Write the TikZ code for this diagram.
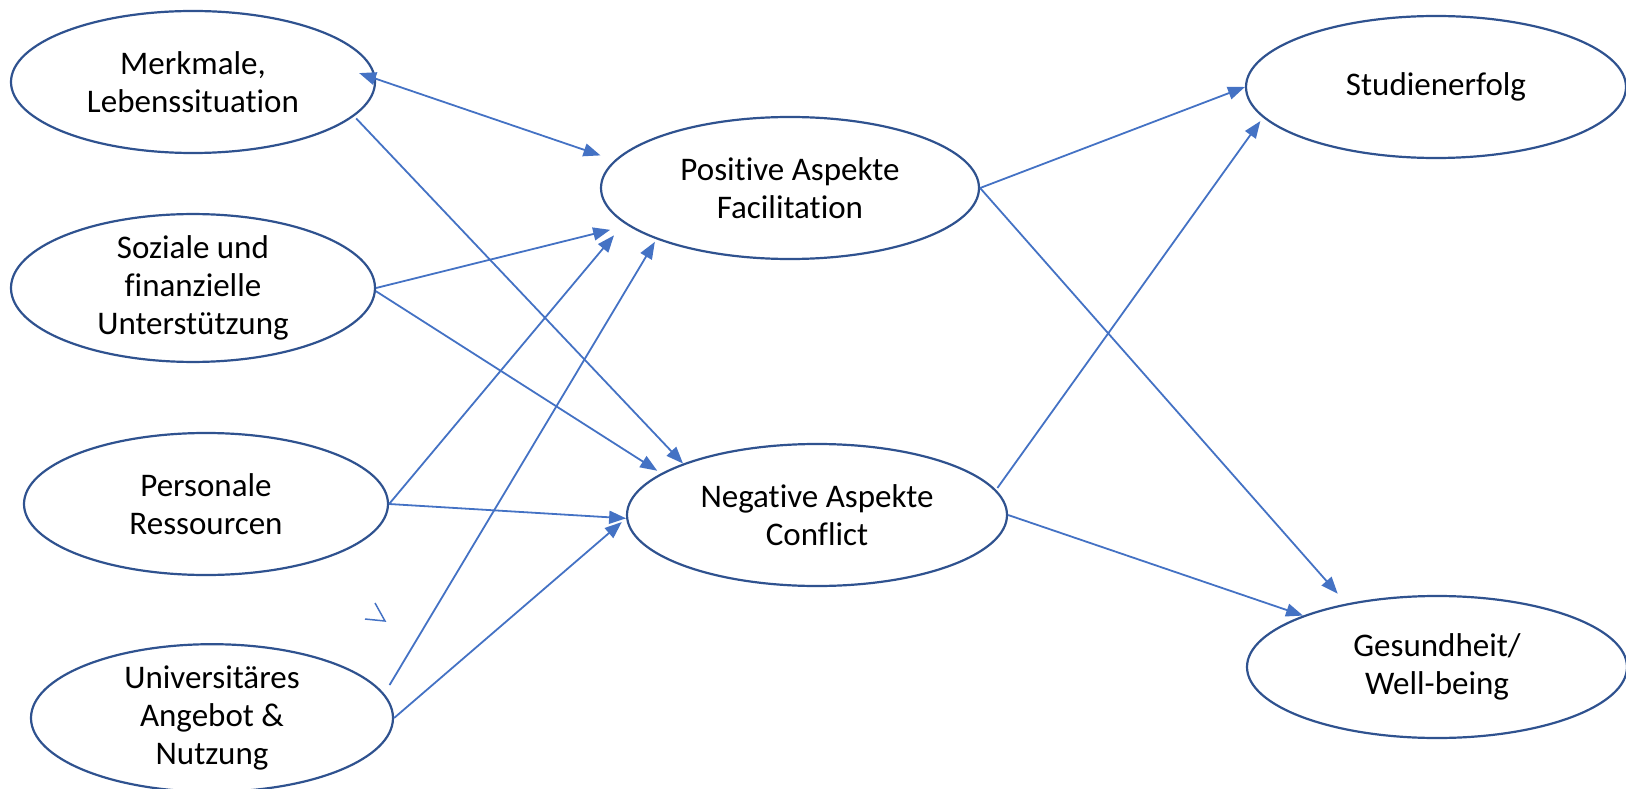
\documentclass[tikz,border=0pt]{standalone}
\usepackage{fontspec}
\setmainfont{Carlito}[Ligatures=NoCommon]
\usetikzlibrary{%
		shapes.geometric%
		,arrows.meta%
	}
\definecolor{pfeilblau}{RGB}{68,114,196}
\definecolor{randblau}{RGB}{47,82,143}

\begin{document}
\begin{tikzpicture}[x=1pt, y=-1pt,
			spitze/.tip={Triangle[length=17pt, width=13pt]},
			konstrukt/.style={ellipse, draw=randblau, line width=2.2pt, minimum width=364pt, minimum height=142pt, inner sep=0pt, align=center, font=\fontsize{33}{38}\selectfont},
			ziel/.style={konstrukt, minimum width=380pt},
			pfeil/.style={draw=pfeilblau, line width=1.8pt, -spitze}]
			\useasboundingbox (0,0) rectangle (1626,789);
			
			% Ressourcen
			\node[konstrukt] (merkmale) at (193,82) {Merkmale,\\Lebenssituation};
			\node[konstrukt] (sozial) at (193,288) {Soziale und\\finanzielle\\Unterstützung};
			\node[konstrukt] (personal) at (206,504) {Personale\\Ressourcen};
			\node[konstrukt, minimum width=362pt, minimum height=140pt] (uni) at (212,718) {Universitäres\\Angebot \&\\Nutzung};
			
			% Facilitation und Conflict
			\node[ziel, minimum width=378pt] (positiv) at (790,188) {Positive Aspekte\\Facilitation};
			\node[ziel] (negativ) at (817,515) {Negative Aspekte\\Conflict};
			
			% Outcomes
			\node[ziel] (erfolg) at (1436,87) {Studienerfolg};
			\node[ziel] (gesund) at (1437,667) {Gesundheit/\\Well-being};
			
			% Pfeile zu den Aspekten
			\draw[pfeil, spitze-spitze, shorten <=-17.7pt, shorten >=14.9pt] (merkmale.1.3) -- (positiv.171.6);
			\draw[pfeil, shorten <=3pt] (merkmale.-12) -- (negativ.159.7);
			\draw[pfeil, shorten >=18pt] (sozial.east) -- (positiv.193.2);
			\draw[pfeil, shorten >=4.7pt] (sozial.-1) -- (negativ.165.5);
			\draw[pfeil, shorten >=15.8pt] (personal.0.6) -- (positiv.192);
			\draw[pfeil] (personal.0.6) -- (negativ.181);
			\draw[pfeil, shorten <=10.2pt, shorten >=3pt] (uni.8.5) -- (positiv.201.4);
			\draw[pfeil, shorten >=5.7pt] (uni.east) -- (negativ.181.3);
			
			% Pfeile zu den Outcomes
			\draw[pfeil] (positiv.east) -- (erfolg.west);
			\draw[pfeil, shorten >=13pt] (positiv.-0.6) -- (gesund.145.7);
			\draw[pfeil, shorten <=2.3pt, shorten >=4.4pt] (negativ.8.4) -- (erfolg.190.5);
			\draw[pfeil] (negativ.-0.6) -- (gesund.159.2);
			
			% kleines Zeichen
			\draw[pfeilblau, line width=1.5pt] (375,603) -- (385,621) -- (365,619);
		\end{tikzpicture}
\end{document}
